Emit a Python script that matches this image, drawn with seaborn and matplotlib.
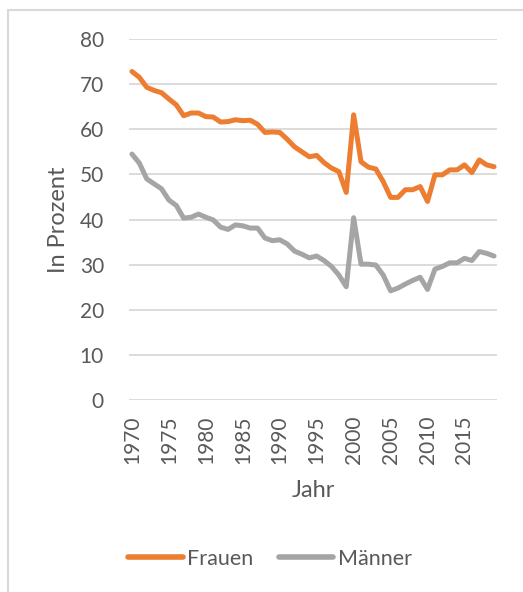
import numpy as np
import pandas as pd
import matplotlib
matplotlib.use("Agg")
import matplotlib.pyplot as plt
from matplotlib.lines import Line2D
import seaborn as sns

# --------------------------------
# data
# --------------------------------
years = list(range(1970, 2020))
frauen = [72.8, 71.5, 69.3, 68.6, 68.1, 66.7, 65.4, 63.0, 63.6, 63.6,
          62.8, 62.7, 61.6, 61.7, 62.1, 61.9, 62.0, 61.1, 59.3, 59.4,
          59.3, 57.8, 56.1, 55.0, 53.9, 54.2, 52.6, 51.4, 50.6, 46.0,
          63.2, 52.8, 51.6, 51.2, 48.4, 44.9, 44.9, 46.6, 46.6, 47.3,
          44.0, 49.9, 49.9, 51.0, 51.0, 52.1, 50.4, 53.2, 52.1, 51.7]
maenner = [54.5, 52.5, 49.0, 47.9, 46.8, 44.3, 43.1, 40.3, 40.5, 41.2,
           40.5, 39.9, 38.3, 37.8, 38.8, 38.6, 38.1, 38.1, 35.9, 35.3,
           35.5, 34.6, 33.0, 32.3, 31.5, 31.9, 30.9, 29.6, 27.7, 25.1,
           40.4, 30.1, 30.1, 29.9, 27.7, 24.2, 24.8, 25.7, 26.5, 27.2,
           24.5, 29.0, 29.6, 30.4, 30.4, 31.4, 30.9, 32.9, 32.5, 31.9]
series_names = ["Frauen", "Männer"]
tick_years = list(range(1970, 2020, 5))
y_ticks = [0, 10, 20, 30, 40, 50, 60, 70, 80]

df = pd.DataFrame({
    "Jahr": years * 2,
    "Wert": frauen + maenner,
    "Gruppe": [series_names[0]] * len(years) + [series_names[1]] * len(years),
})

# --------------------------------
# style
# --------------------------------
sns.set_theme(style="white")
plt.rcParams["font.family"] = ["Lato", "DejaVu Sans"]
text_col = "#595959"
grid_col = "#D9D9D9"
palette = {"Frauen": "#ED7D31", "Männer": "#A5A5A5"}

fig = plt.figure(figsize=(5.23, 5.92), dpi=100)
ax = fig.add_axes([129 / 523, 1 - 400 / 592, 368 / 523, 361 / 592])

sns.lineplot(data=df, x="Jahr", y="Wert", hue="Gruppe", palette=palette,
             linewidth=3.6, ax=ax, legend=False, solid_capstyle="round")

ax.set_xlim(1969.6, 2019.4)
ax.set_ylim(0, 80)
ax.set_yticks(y_ticks)
ax.set_xticks(tick_years)
ax.set_xticklabels([str(y) for y in tick_years], rotation=90)
ax.yaxis.grid(True, color=grid_col, linewidth=1.3)
ax.set_axisbelow(True)
for s in ax.spines.values():
    s.set_visible(False)
ax.tick_params(axis="both", length=0, labelsize=15, colors=text_col)
ax.tick_params(axis="x", pad=11)
ax.tick_params(axis="y", pad=18)
ax.set_xlabel("Jahr", fontsize=17, color=text_col, labelpad=12)
ax.set_ylabel("In Prozent", fontsize=17, color=text_col, labelpad=8)

handles = [Line2D([0], [0], color=palette[n], linewidth=4, solid_capstyle="round")
           for n in series_names]
fig.legend(handles, series_names, loc="center", bbox_to_anchor=(270 / 523, 1 - 559 / 592),
           ncol=2, frameon=False, fontsize=15.5, labelcolor=text_col,
           handlelength=2.55, handletextpad=0.2, columnspacing=1.15)

# chart area frame (partially cropped in the reference)
fig.add_artist(Line2D([8 / 523, 8 / 523], [0, 1 - 10 / 592], color=grid_col, linewidth=1.5))
fig.add_artist(Line2D([8 / 523, 1], [1 - 10 / 592, 1 - 10 / 592], color=grid_col, linewidth=1.5))

fig.savefig("out.png", dpi=100)
